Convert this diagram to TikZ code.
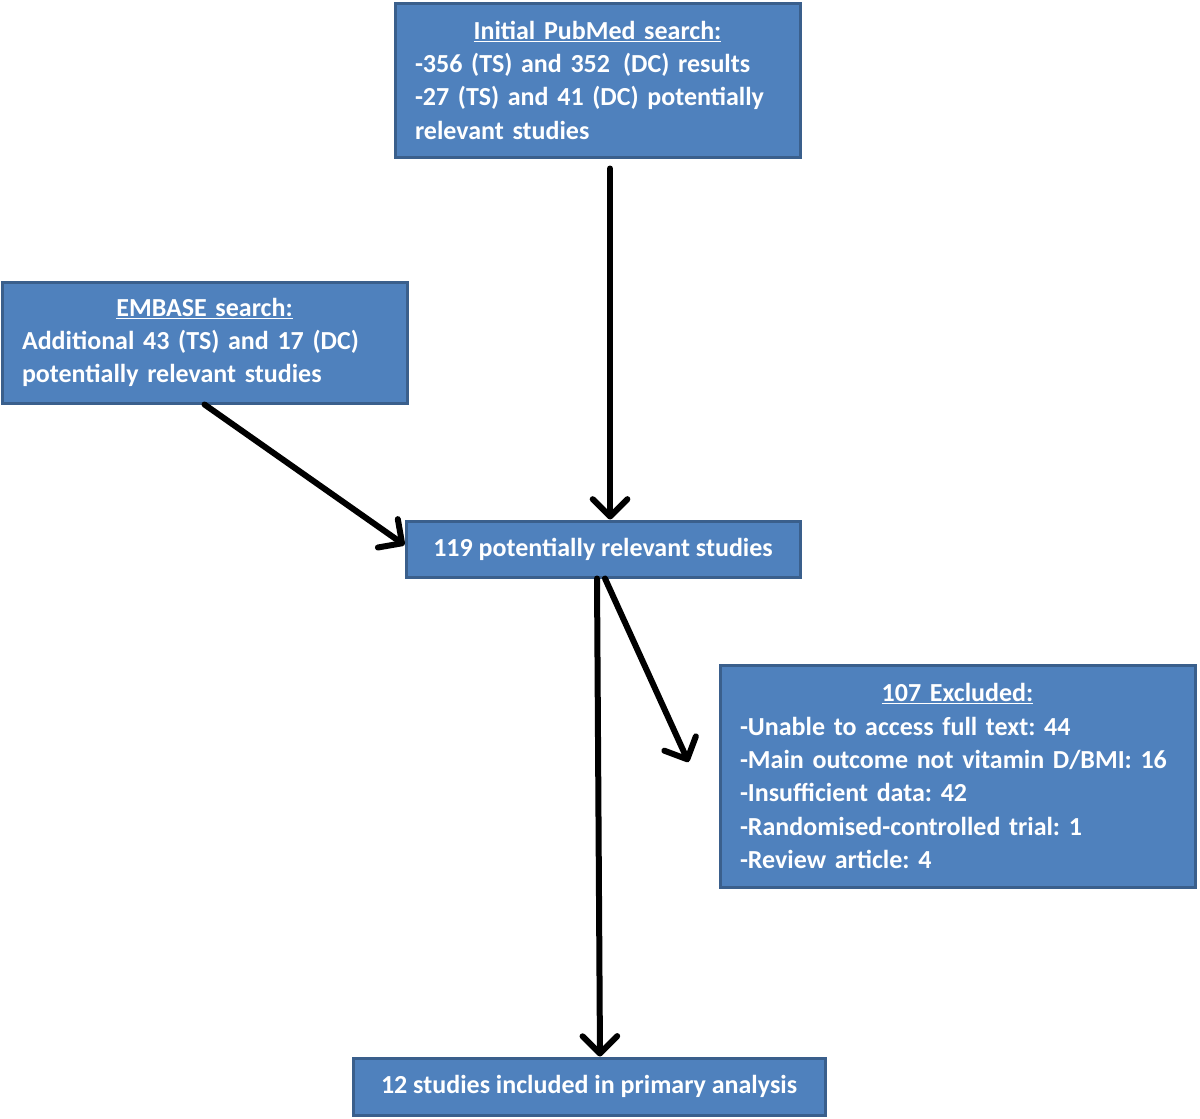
\documentclass[tikz,border=0pt]{standalone}
\usepackage{fontspec}
\setmainfont{Carlito}
\usetikzlibrary{arrows.meta}
\definecolor{boxfill}{HTML}{4F81BD}
\definecolor{boxline}{HTML}{3A5F8C}
\begin{document}
\frenchspacing
\begin{tikzpicture}[x=0.75pt,y=-0.75pt,
  box/.style={draw=boxline,fill=boxfill,line width=2.25pt,text=white,
    font=\fontsize{19.5}{25}\selectfont\bfseries\frenchspacing,inner xsep=15pt,inner ysep=0pt},
  tbox/.style={box,align=left,anchor=center},
  sbox/.style={box,align=center,anchor=center},
  arr/.style={line width=4.5pt,line cap=round,line join=round,
    -{Straight Barb[length=13pt,width=26pt,line width=4.5pt,round]}}]
\useasboundingbox (0,0) rectangle (1200,1118);
\node[tbox,text width=273.75pt,minimum height=115.5pt] (pub) at (597.5,80)
 {\makebox[\linewidth]{\underline{Initial PubMed search:}}\\
  -356 (TS) and 352\, (DC) results\\
  -27 (TS) and 41 (DC) potentially\\
  relevant studies};
\node[tbox,text width=273.75pt,minimum height=90.75pt] (emb) at (204.5,342.5)
 {\makebox[\linewidth]{\underline{EMBASE search:}}\\
  Additional 43 (TS) and 17 (DC)\\
  potentially relevant studies};
\node[sbox,minimum width=295.5pt,minimum height=42pt] (mid) at (603,549)
 {119 potentially relevant studies};
\node[tbox,text width=326.25pt,minimum height=166.5pt] (exc) at (957.5,776)
 {\makebox[\linewidth]{\underline{107 Excluded:}}\\
  -Unable to access full text: 44\\
  -Main outcome not vitamin D/BMI: 16\\
  -Insufficient data: 42\\
  -Randomised-controlled trial: 1\\
  -Review article: 4};
\node[sbox,minimum width=354pt,minimum height=42.75pt] (fin) at (589,1086.5)
 {12 studies included in primary analysis};
\draw[arr,shorten <=7.5pt] ([xshift=9.4pt]pub.south) -- ([xshift=9.4pt]pub.south |- mid.north);
\draw[arr] (emb.south) -- ([yshift=3pt]mid.west);
\draw[arr] ([xshift=-4.5pt]mid.south) -- ([xshift=8.25pt]fin.north);
\draw[arr] ([xshift=1.5pt]mid.south) -- ([shift={(-22.5pt,10.5pt)}]exc.west);
\end{tikzpicture}
\end{document}
